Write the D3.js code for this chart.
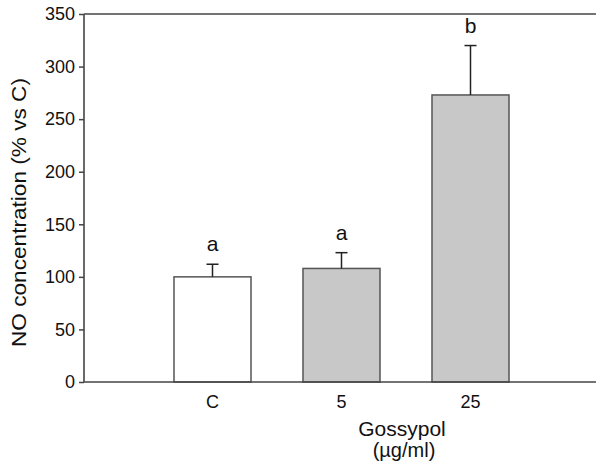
<!DOCTYPE html>
<html>
<head>
<meta charset="utf-8">
<script src="https://cdn.jsdelivr.net/npm/d3@7"></script>
<style>
  html, body { margin: 0; padding: 0; background: #fff; }
  svg { display: block; font-family: "Liberation Sans", Arial, Helvetica, sans-serif; }
</style>
</head>
<body>
<svg id="chart" width="596" height="469"></svg>
<script>
// NO production after gossypol treatment (mean + SE, % of control)
const categories = ["C", "5", "25"];
const means = [100, 108, 273];
const errors = [12, 15, 47];
const groupLetters = ["a", "a", "b"];
const fills = ["#ffffff", "#c8c8c8", "#c8c8c8"];
const yTicks = [0, 50, 100, 150, 200, 250, 300, 350];

const svg = d3.select("#chart");
const axisColor = "#444";

const y = d3.scaleLinear().domain([0, 350]).range([382, 14]);
const x = d3.scaleBand()
  .domain(categories)
  .range([148, 535])
  .paddingInner(0.403)
  .paddingOuter(0.2015);

// frame: left axis, top and bottom rules
const frame = svg.append("g").attr("stroke", axisColor).attr("stroke-width", 1.6);
frame.append("line").attr("x1", 84).attr("x2", 84).attr("y1", y(350)).attr("y2", y(0));
frame.append("line").attr("x1", 84).attr("x2", 596).attr("y1", y(350)).attr("y2", y(350));

// bars
svg.append("g").selectAll("rect")
  .data(categories)
  .join("rect")
  .attr("x", d => x(d))
  .attr("width", x.bandwidth())
  .attr("y", (d, i) => y(means[i]))
  .attr("height", (d, i) => y(0) - y(means[i]))
  .attr("fill", (d, i) => fills[i])
  .attr("stroke", "#555")
  .attr("stroke-width", 1.5);

// upper error bars
const err = svg.append("g").attr("stroke", "#222").attr("stroke-width", 1.5);
categories.forEach((c, i) => {
  const cx = x(c) + x.bandwidth() / 2;
  err.append("line").attr("x1", cx).attr("x2", cx)
    .attr("y1", y(means[i])).attr("y2", y(means[i] + errors[i]));
  err.append("line").attr("x1", cx - 6).attr("x2", cx + 6)
    .attr("y1", y(means[i] + errors[i])).attr("y2", y(means[i] + errors[i]));
});

// significance letters
svg.append("g").selectAll("text")
  .data(categories)
  .join("text")
  .attr("x", d => x(d) + x.bandwidth() / 2)
  .attr("y", (d, i) => y(means[i] + errors[i]) - 13)
  .attr("text-anchor", "middle")
  .attr("font-size", 21)
  .attr("fill", "#111")
  .text((d, i) => groupLetters[i]);

// y axis ticks
const yAxis = svg.append("g")
  .attr("transform", "translate(84,0)")
  .call(d3.axisLeft(y).tickValues(yTicks).tickSize(5).tickPadding(4).tickFormat(d3.format("d")));
yAxis.select(".domain").remove();
yAxis.selectAll(".tick line").attr("stroke", axisColor).attr("stroke-width", 1.5);
yAxis.selectAll(".tick text")
  .attr("font-size", 18).attr("fill", "#111")
  .attr("font-family", "'Liberation Sans', Arial, sans-serif");

// x axis
const xAxis = svg.append("g")
  .attr("transform", `translate(0,${y(0)})`)
  .call(d3.axisBottom(x).tickSize(0).tickPadding(13));
xAxis.select(".domain").remove();
xAxis.selectAll(".tick text")
  .attr("font-size", 18).attr("fill", "#111")
  .attr("font-family", "'Liberation Sans', Arial, sans-serif");
svg.append("line")
  .attr("x1", 84).attr("x2", 596).attr("y1", y(0)).attr("y2", y(0))
  .attr("stroke", axisColor).attr("stroke-width", 1.6);

// axis titles
svg.append("text")
  .attr("x", 402).attr("y", 436)
  .attr("text-anchor", "middle").attr("font-size", 21).attr("fill", "#111")
  .text("Gossypol");
svg.append("text")
  .attr("x", 404).attr("y", 457)
  .attr("text-anchor", "middle").attr("font-size", 20).attr("fill", "#111")
  .text("(\u00b5g/ml)");
svg.append("text")
  .attr("transform", "translate(26,212.5) rotate(-90)")
  .attr("text-anchor", "middle").attr("font-size", 20).attr("fill", "#111")
  .attr("textLength", 269).attr("lengthAdjust", "spacingAndGlyphs")
  .text("NO concentration (% vs C)");
</script>
</body>
</html>
